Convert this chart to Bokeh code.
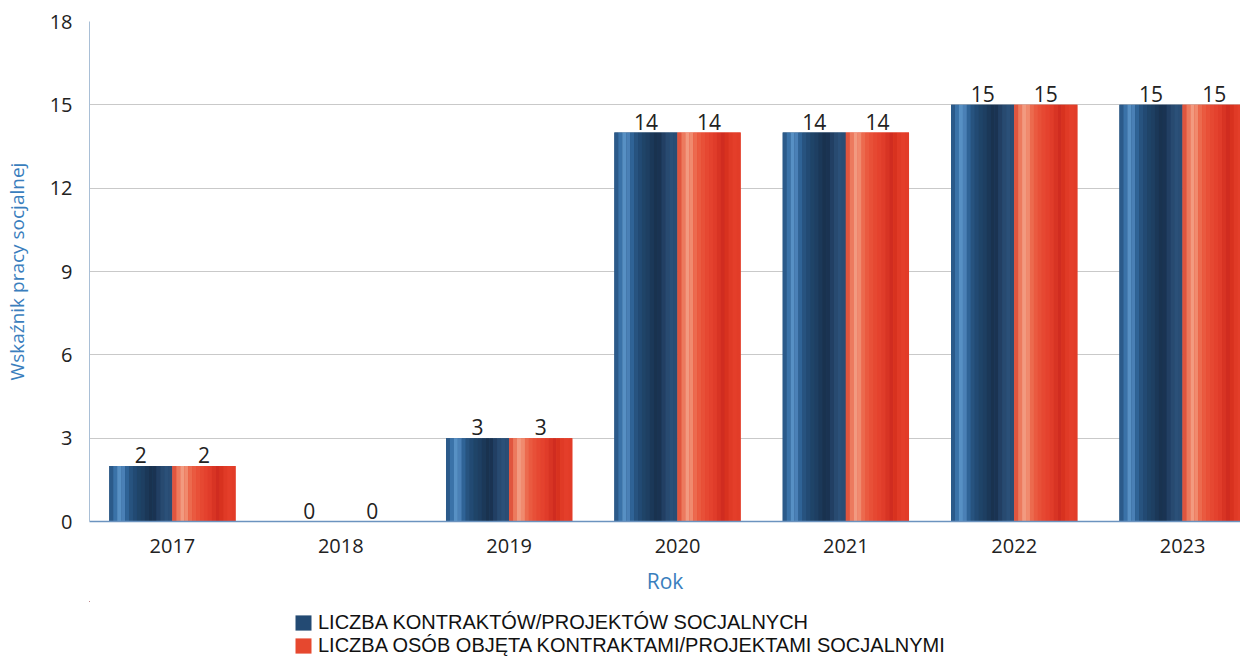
from bokeh.plotting import figure
from bokeh.models import (Range1d, FixedTicker, Legend, LegendItem, ColumnDataSource)
from bokeh.layouts import column
from bokeh.core.properties import value
from bokeh.embed import file_html
from bokeh.resources import INLINE

# ---- data ----
years = ["2017", "2018", "2019", "2020", "2021", "2022", "2023"]
contracts = [2, 0, 3, 14, 14, 15, 15]
persons = [2, 0, 3, 14, 14, 15, 15]
series_names = ["LICZBA KONTRAKTÓW/PROJEKTÓW SOCJALNYCH",
                "LICZBA OSÓB OBJĘTA KONTRAKTAMI/PROJEKTAMI SOCJALNYMI"]
y_ticks = [0, 3, 6, 9, 12, 15, 18]

# ---- styling ----
BAR_W = 0.375
blue_base = "#234a73"
red_base = "#e6482f"
blue_profile = ["#2b5a8a", "#3a72a8", "#5790c4", "#4a80b6", "#2f6396", "#27537f",
                "#224a73", "#1f4468", "#1e3f62", "#1b3858", "#19324f", "#1a3352",
                "#223f63", "#284a70", "#2b5078", "#2a4d74"]
red_profile = ["#e0553e", "#ec7a5e", "#f29a80", "#f08a6e", "#ec6a4e", "#ea5a40",
               "#e85038", "#e64832", "#e4422e", "#e03c2a", "#d83424", "#d02c20",
               "#d8321f", "#e03a26", "#e43e2a", "#e23c28"]

idx = list(range(len(years)))

p = figure(width=1240, height=601,
           x_range=Range1d(-0.4926, 6.344), y_range=Range1d(0, 18),
           output_backend="svg", toolbar_location=None,
           min_border_left=80, min_border_right=0, min_border_top=21, min_border_bottom=80)
p.outline_line_color = None
p.background_fill_color = "white"

def draw_series(vals, offset, base, profile):
    xs = [i + offset for i in idx]
    src = ColumnDataSource(dict(x=xs, top=vals))
    p.vbar(x="x", top="top", width=BAR_W, bottom=0, source=src,
           fill_color=base, line_color=None)
    n = len(profile)
    sw = BAR_W / n
    for k, c in enumerate(profile):
        sx = [x - BAR_W / 2 + sw * (k + 0.5) for x in xs]
        p.vbar(x=sx, top=vals, width=sw * 1.02, bottom=0, fill_color=c, line_color=None)
    p.text(x=xs, y=vals, text=[str(v) for v in vals], text_align="center",
           text_baseline="bottom", y_offset=-3, text_font=value("Open Sans"),
           text_font_size="21px", text_color="#222222")

draw_series(contracts, -BAR_W / 2, blue_base, blue_profile)
draw_series(persons, BAR_W / 2, red_base, red_profile)

# axes
p.xaxis.ticker = FixedTicker(ticks=idx)
p.xaxis.major_label_overrides = {i: y for i, y in enumerate(years)}
p.xaxis.major_tick_line_color = None
p.xaxis.minor_tick_line_color = None
p.xaxis.axis_line_color = "#6b93bf"
p.xaxis.axis_line_width = 1.5
p.xaxis.major_label_standoff = 11
p.xaxis.major_label_text_font = "Open Sans"
p.xaxis.major_label_text_font_size = "20px"
p.xaxis.major_label_text_color = "#222222"
p.xaxis.axis_label = "Rok"
p.xaxis.axis_label_text_font = "Open Sans"
p.xaxis.axis_label_text_font_style = "normal"
p.xaxis.axis_label_text_font_size = "21px"
p.xaxis.axis_label_text_color = "#3a7ebd"
p.xaxis.axis_label_standoff = 11

p.yaxis.ticker = FixedTicker(ticks=y_ticks)
p.yaxis.major_tick_line_color = None
p.yaxis.minor_tick_line_color = None
p.yaxis.axis_line_color = "#a9bfd6"
p.yaxis.major_label_standoff = 11
p.yaxis.major_label_text_font = "Open Sans"
p.yaxis.major_label_text_font_size = "20px"
p.yaxis.major_label_text_color = "#222222"
p.yaxis.axis_label = "Wskaźnik pracy socjalnej"
p.yaxis.axis_label_text_font = "Open Sans"
p.yaxis.axis_label_text_font_style = "normal"
p.yaxis.axis_label_text_font_size = "19px"
p.yaxis.axis_label_text_color = "#3a7ebd"
p.yaxis.axis_label_standoff = 17

p.xgrid.grid_line_color = None
p.ygrid.grid_line_color = "#c9c9c9"
p.ygrid.grid_line_width = 1

# ---- legend strip ----
q = figure(width=1240, height=56, x_range=Range1d(100, 101), y_range=Range1d(-2, -1),
           output_backend="svg", toolbar_location=None,
           x_axis_type=None, y_axis_type=None,
           min_border_left=0, min_border_right=0, min_border_top=0, min_border_bottom=0)
q.outline_line_color = None
q.xgrid.visible = False
q.ygrid.visible = False
# legend proxies (drawn from the data, but outside this strip's visible ranges)
lr1 = q.vbar(x=idx, top=contracts, bottom=0, width=BAR_W, fill_color=blue_base, line_color=None)
lr2 = q.vbar(x=idx, top=persons, bottom=0, width=BAR_W, fill_color=red_base, line_color=None)

legend_style = dict(orientation="vertical", padding=0, margin=0, spacing=0,
                    glyph_width=20, glyph_height=19, label_standoff=5,
                    label_text_font="Liberation Sans", label_text_font_size="20px",
                    label_text_color="#111111", label_height=18,
                    border_line_alpha=0, background_fill_alpha=0)
leg1 = Legend(items=[LegendItem(label=series_names[0], renderers=[lr1])],
              location=(204, 23), **legend_style)
leg2 = Legend(items=[LegendItem(label=series_names[1], renderers=[lr2])],
              location=(204, 0), **legend_style)
q.add_layout(leg1, "center")
q.add_layout(leg2, "center")

layout = column(p, q, spacing=0)
open("out.html", "w").write(file_html(layout, INLINE))
